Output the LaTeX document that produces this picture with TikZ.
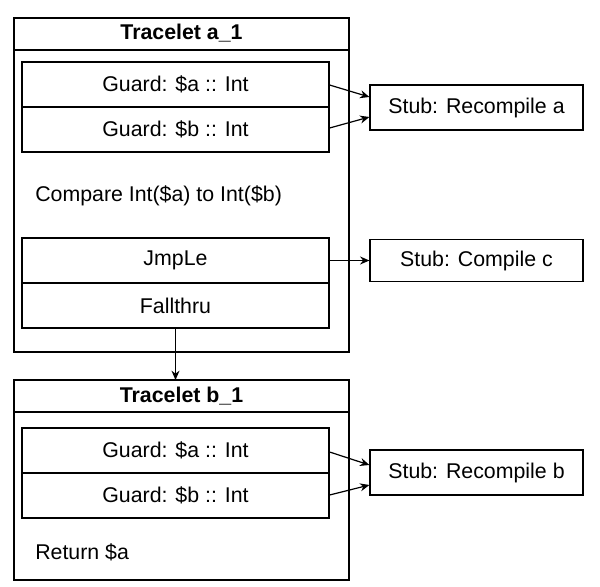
\documentclass[tikz,border=0pt]{standalone}
\usepackage{fontspec}
\setmainfont{Liberation Sans}
\usetikzlibrary{arrows.meta}
\tikzset{
  cell/.style={draw, line width=0.9pt, minimum width=230.25pt, minimum height=33.75pt, inner sep=0pt, font=\fontsize{16}{19}\selectfont},
  stub/.style={draw, line width=0.9pt, minimum width=159.75pt, inner sep=0pt, font=\fontsize{16}{19}\selectfont},
  frame/.style={draw, line width=0.9pt},
  plain/.style={font=\fontsize{16}{19}\selectfont, anchor=west, inner sep=0pt},
  head/.style={font=\bfseries\fontsize{16}{19}\selectfont, inner sep=0pt},
  link/.style={-{Stealth[length=7pt,width=6pt]}, line width=0.9pt}
}
\begin{document}
\begin{tikzpicture}[x=0.75pt, y=-0.75pt]
\useasboundingbox (0,0) rectangle (600,586);

% Tracelet a_1
\draw[frame] (14,18) rectangle (349,352);
\draw[frame] (14,50) -- (349,50);
\node[head] (ta) at (181.5,33) {Tracelet a\_1};
\node[cell] (ga1) at (175.5,84.5) {Guard: \$a :: Int};
\node[cell] (gb1) at (175.5,129.5) {Guard: \$b :: Int};
\node[plain] (cmp) at (35,196) {Compare Int(\$a) to Int(\$b)};
\node[cell] (jmp) at (175.5,260.5) {JmpLe};
\node[cell] (fall) at (175.5,305.5) {Fallthru};

\node[stub, minimum height=33.75pt] (sa) at (476.5,107.5) {Stub: Recompile a};
\node[stub, minimum height=31.5pt] (sc) at (476.5,260.5) {Stub: Compile c};

\draw[link] (ga1.north east |- 0,85) -- (sa.west |- 0,97);
\draw[link] (gb1.north east |- 0,128) -- (sa.west |- 0,117);
\draw[link] (jmp.east) -- (sc.west);

% Tracelet b_1
\draw[frame] (14,380) rectangle (349,580);
\draw[frame] (14,412) -- (349,412);
\node[head] (tb) at (181.5,396) {Tracelet b\_1};
\node[cell] (ga2) at (175.5,450.5) {Guard: \$a :: Int};
\node[cell] (gb2) at (175.5,495.5) {Guard: \$b :: Int};
\node[plain] (ret) at (35,552) {Return \$a};

\node[stub, minimum height=33.75pt] (sb) at (476.5,472.5) {Stub: Recompile b};

\draw[link] (ga2.east |- 0,452) -- (sb.west |- 0,465);
\draw[link] (gb2.east |- 0,495) -- (sb.west |- 0,485);

\draw[link] (fall.south) -- (fall.south |- 0,380);
\end{tikzpicture}
\end{document}
